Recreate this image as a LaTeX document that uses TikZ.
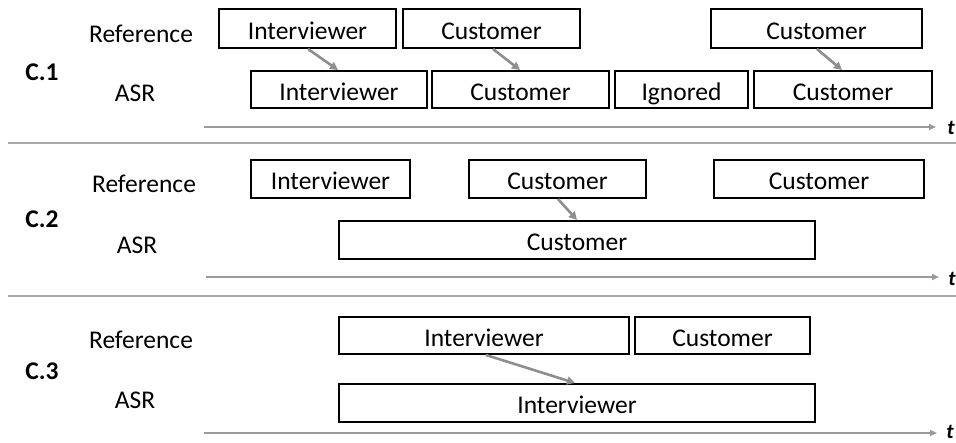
\documentclass[tikz,border=0pt]{standalone}
\usepackage{fontspec}
\setmainfont{Carlito}
\usetikzlibrary{arrows.meta,calc}
\definecolor{conngray}{HTML}{8E8E8E}
\definecolor{axisgray}{HTML}{9A9A9A}
\definecolor{sepgray}{HTML}{A8A8A8}
\begin{document}
\begin{tikzpicture}[x=1pt,y=-1pt,
  seg/.style={draw=black, line width=2.4pt, inner sep=0pt,
    font=\fontsize{25.5}{28}\selectfont, text height=21pt, text depth=0pt},
  lbl/.style={inner sep=0pt, font=\fontsize{25.5}{28}\selectfont},
  case/.style={inner sep=0pt, font=\fontsize{25.5}{28}\selectfont\bfseries},
  tlbl/.style={inner sep=0pt, font=\fontsize{21}{24}\selectfont\bfseries\itshape},
  conn/.style={draw=conngray, line width=2.6pt, -{Triangle[length=8pt,width=8pt]}},
  axis/.style={draw=axisgray, line width=2pt, -{Triangle[length=7pt,width=6pt]}},
  sep/.style={draw=sepgray, line width=1.6pt}]
\useasboundingbox (0,0) rectangle (956,442);

% ---------- C.1 ----------
\node[case] (c1) at (42,72.5) {C.1};
\node[lbl] (ref1) at (141,33.5) {Reference};
\node[lbl] (asr1) at (135,93) {ASR};
\node[seg, minimum width=176.6, minimum height=38.6] (r11) at (307.5,28.5) {Interviewer};
\node[seg, minimum width=176.6, minimum height=38.6] (r12) at (491.5,28.5) {Customer};
\node[seg, minimum width=210.6, minimum height=38.6] (r13) at (816.5,28.5) {Customer};
\node[seg, minimum width=175.6, minimum height=36.6] (a11) at (339,89.5) {Interviewer};
\node[seg, minimum width=176.6, minimum height=36.6] (a12) at (520.5,89.5) {Customer};
\node[seg, minimum width=132.6, minimum height=36.6] (a13) at (681.5,89.5) {Ignored};
\node[seg, minimum width=177.6, minimum height=36.6] (a14) at (843,89.5) {Customer};
\draw[conn] ($(r11.south)+(0.5,0)$) -- ($(a11.north)+(-1,0)$);
\draw[conn] ($(r12.south)+(1.5,0)$) -- ($(a12.north)+(-0.5,0)$);
\draw[conn] ($(r13.south)+(0.5,0)$) -- ($(a14.north)+(-1,0)$);
\coordinate (ax1) at (204,127);
\coordinate (e1) at (936,127);
\node[tlbl] (t1) at (951,128) {t};
\draw[axis] (ax1) -- (e1);
\coordinate (s1a) at (8,143);
\coordinate (s1b) at (956,143);
\draw[sep] (s1a) -- (s1b);

% ---------- C.2 ----------
\node[case] (c2) at (42,219.5) {C.2};
\node[lbl] (ref2) at (144,184) {Reference};
\node[lbl] (asr2) at (137,245) {ASR};
\node[seg, minimum width=158.6, minimum height=37.6] (r21) at (330.5,179) {Interviewer};
\node[seg, minimum width=176.6, minimum height=37.6] (r22) at (557.5,179) {Customer};
\node[seg, minimum width=209.6, minimum height=37.6] (r23) at (819,179) {Customer};
\node[seg, minimum width=475.6, minimum height=37.6] (a21) at (577,240) {Customer};
\draw[conn] ($(r22.south)+(0.5,0)$) -- ($(a21.north)+(0,0)$);
\coordinate (ax2) at (206,277);
\coordinate (e2) at (939,277);
\node[tlbl] (t2) at (952,279) {t};
\draw[axis] (ax2) -- (e2);
\coordinate (s2a) at (8,296);
\coordinate (s2b) at (956,296);
\draw[sep] (s2a) -- (s2b);

% ---------- C.3 ----------
\node[case] (c3) at (42,371) {C.3};
\node[lbl] (ref3) at (141,340) {Reference};
\node[lbl] (asr3) at (135,400) {ASR};
\node[seg, minimum width=289.6, minimum height=36.6] (r31) at (484,335.5) {Interviewer};
\node[seg, minimum width=174.6, minimum height=36.6] (r32) at (722.5,335.5) {Customer};
\node[seg, minimum width=475.6, minimum height=37.6] (a31) at (577,403) {Interviewer};
\draw[conn] ($(r31.south)+(2,0)$) -- ($(a31.north)+(-2,0)$);
\coordinate (ax3) at (204,433);
\coordinate (e3) at (937,433);
\node[tlbl] (t3) at (950,432) {t};
\draw[axis] (ax3) -- (e3);
\end{tikzpicture}
\end{document}
